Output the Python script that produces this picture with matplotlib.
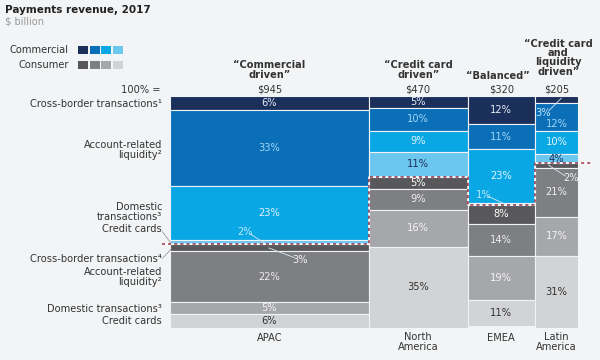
import matplotlib
matplotlib.use('Agg')
import matplotlib.pyplot as plt
from matplotlib.patches import Rectangle

# Data: payments revenue 2017, $ billion, and segment shares (%)
regions = ['APAC', 'North\nAmerica', 'EMEA', 'Latin\nAmerica']
totals = [945, 470, 320, 205]
headers = ['\u201cCommercial\ndriven\u201d', '\u201cCredit card\ndriven\u201d',
           '\u201cBalanced\u201d', '\u201cCredit card\nand\nliquidity\ndriven\u201d']
segments = ['Commercial cross-border', 'Commercial account liquidity',
            'Commercial domestic', 'Commercial credit cards',
            'Consumer cross-border', 'Consumer account liquidity',
            'Consumer domestic', 'Consumer credit cards']
apac = [6, 33, 23, 2, 3, 22, 5, 6]
north_america = [5, 10, 9, 11, 5, 9, 16, 35]
emea = [12, 11, 23, 1, 8, 14, 19, 11]
latin_america = [3, 12, 10, 4, 2, 21, 17, 31]
shares = [apac, north_america, emea, latin_america]

row_labels = ['Cross-border transactions\u00b9', 'Account-related\nliquidity\u00b2',
              'Domestic\ntransactions\u00b3', 'Credit cards',
              'Cross-border transactions\u2074', 'Account-related\nliquidity\u00b2',
              'Domestic transactions\u00b3', 'Credit cards']
row_label_y = [3.4, 23.3, 50, 57.3, 70.3, 78, 91.8, 97]

colors = ['#1b2f5b', '#0b6fb8', '#0aa7e5', '#6cc7ee',
          '#58585a', '#7e7f82', '#a6a7aa', '#d2d3d5']
text_colors = ['#e6ecf4', '#9fd6f5', '#dff4fd', '#1b2f5b',
               '#ffffff', '#eeeeee', '#f4f4f4', '#333333']

# small segments labelled outside with a leader line: (region, segment): (text xy, line end)
callouts = {(0, 3): ((356, 58.6), (451, 63.5)),
            (0, 4): ((617, 70.5), (470, 65.5)),
            (2, 3): ((1490, 42.5), (1590, 46.5)),
            (3, 0): ((1775, 7.3), (1860, 1.0)),
            (3, 4): ((1905, 35.3), (1800, 29.8))}
nudge = {(3, 1): 3.0}  # LatAm 12% sits low in its block
header_shift = {2: -18, 3: 8}

BG = '#f3f4f6'
plt.rcParams['font.family'] = 'DejaVu Sans'
FS = 7.1

fig = plt.figure(figsize=(6, 3.6), dpi=100, facecolor=BG)
ax = fig.add_axes([170 / 600, 32 / 360, 408 / 600, 232 / 360])
ax.set_facecolor(BG)
ax.set_xlim(0, sum(totals))
ax.set_ylim(100, 0)
ax.axis('off')

left = 0
for r, (tot, vals) in enumerate(zip(totals, shares)):
    bottom = 0
    for s, v in enumerate(vals):
        ax.bar(left, v, width=tot, bottom=bottom, align='edge', color=colors[s],
               edgecolor='#f0f2f5', linewidth=0.8)
        if (r, s) in callouts:
            (tx, ty), (lx, ly) = callouts[(r, s)]
            ax.text(tx, ty, f'{v}%', ha='center', va='center', fontsize=FS,
                    color='#bfe9fb' if s < 4 else '#f4f4f4')
            ax.plot([lx, tx + (25 if lx > tx else -25)], [ly, ty + (0.8 if ly > ty else -0.8)],
                    color='#d8e6f0', lw=0.6)
        else:
            ax.text(left + tot / 2, bottom + v / 2 + nudge.get((r, s), 0), f'{v}%',
                    ha='center', va='center', fontsize=FS, color=text_colors[s])
        bottom += v
    ax.text(left + tot / 2, -2.6, f'${tot}', ha='center', va='center', fontsize=FS, color='#333333')
    hy = {0: -11.2, 1: -11.2, 2: -8.8, 3: -16.5}[r]
    ax.text(left + tot / 2 + header_shift.get(r, 0), hy, headers[r], ha='center', va='center',
            fontsize=FS, fontweight='bold', color='#333333', linespacing=0.9)
    ax.text(left + tot / 2, 106 if '\n' in regions[r] else 104.2, regions[r], ha='center',
            va='center', fontsize=FS, color='#333333', linespacing=1.0)
    left += tot

ax.text(-45, -2.6, '100% =', ha='right', va='center', fontsize=FS, color='#333333')
for lab, y in zip(row_labels, row_label_y):
    ax.text(-38, y, lab, ha='right', va='center', fontsize=FS, color='#333333',
            linespacing=1.0)
# tiny leaders from the two labels near the commercial/consumer split
ax.plot([-36, 5], [58.5, 63.5], color='#888888', lw=0.5, clip_on=False)
ax.plot([-36, 5], [70, 66], color='#888888', lw=0.5, clip_on=False)

# dashed step line separating commercial-heavy from consumer-heavy blocks
com = [sum(v[:4]) for v in shares]
x0 = [0, totals[0], totals[0] + totals[1], totals[0] + totals[1] + totals[2]]
em_bot = sum(emea[:4])
step_x = [-40, x0[1], x0[1], x0[2], x0[2], x0[3], x0[3], sum(totals) + 60]
step_y = [com[0], com[0], com[1], com[1], em_bot, em_bot, com[3], com[3]]
ax.plot(step_x, step_y, color='#a03a4a', gapcolor='white', linestyle=(0, (2, 2)),
        lw=1.1, clip_on=False)

# title and legend
fig.text(5 / 600, 1 - 10 / 360, 'Payments revenue, 2017', fontsize=7.5, fontweight='bold',
         color='#222222', va='center')
fig.text(5 / 600, 1 - 21 / 360, '$ billion', fontsize=FS, color='#9a9a9a', va='center')
for i, (name, y) in enumerate([('Commercial', 50), ('Consumer', 65)]):
    fig.text(69 / 600, 1 - y / 360, name, fontsize=FS, color='#333333', ha='right', va='center')
    for k in range(4):
        fig.add_artist(Rectangle(((78 + k * 11.5) / 600, 1 - (y + 3.5) / 360), 10 / 600, 7 / 360,
                                 transform=fig.transFigure, color=colors[i * 4 + k], lw=0))

fig.savefig('out.png', dpi=100, facecolor=BG)
